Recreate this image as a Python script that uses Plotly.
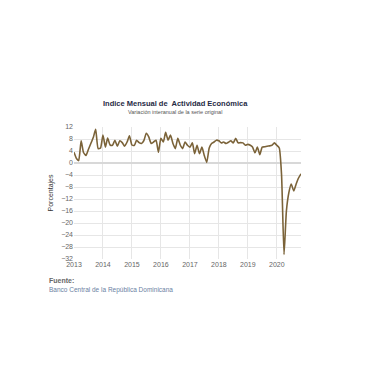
import plotly.graph_objects as go
import pandas as pd

# Monthly year-over-year variation (%), Jan 2013 - Nov 2020
values_2013 = [3.6, 1.5, 0.8, 7.4, 3.5, 2.5, 4.5, 6.5, 8.5, 11.2, 4.8, 5.0]
values_2014 = [9.3, 5.3, 8.3, 6.0, 5.9, 7.6, 5.6, 7.4, 6.8, 5.6, 7.0, 9.1]
values_2015 = [6.0, 5.9, 7.6, 6.8, 6.5, 7.5, 9.9, 8.7, 6.5, 7.0, 7.6, 3.6]
values_2016 = [8.2, 7.0, 10.2, 7.6, 9.3, 6.5, 4.8, 8.2, 6.0, 4.8, 7.0, 5.9]
values_2017 = [5.3, 6.7, 3.1, 5.9, 3.1, 5.3, 2.5, 0.2, 5.0, 6.5, 7.0, 7.6]
values_2018 = [7.4, 6.7, 7.0, 6.5, 6.9, 7.4, 6.7, 8.2, 6.7, 6.8, 6.7, 5.9]
values_2019 = [6.2, 5.9, 5.3, 3.4, 5.3, 2.8, 5.3, 5.4, 5.6, 5.7, 5.9, 6.7]
values_2020 = [5.9, 5.0, -4.0, -30.5, -16.0, -9.9, -7.0, -9.3, -7.0, -5.0, -3.6]

values = (values_2013 + values_2014 + values_2015 + values_2016 +
          values_2017 + values_2018 + values_2019 + values_2020)
dates = pd.date_range("2013-01-01", periods=len(values), freq="MS")

y_ticks = list(range(-32, 13, 4))

title = "Indice Mensual de  Actividad Económica"
subtitle = "Variación interanual de la serie original"
y_title = "Porcentajes"
source_label = "Fuente:"
source_text = "Banco Central de la República Dominicana"

FONT = "Liberation Sans, Arial, sans-serif"

fig = go.Figure()
fig.add_trace(go.Scatter(
    x=dates, y=values, mode="lines",
    line=dict(color="#7b6339", width=1.6, shape="spline", smoothing=0.5),
    hoverinfo="x+y", showlegend=False,
))

fig.update_layout(
    width=380, height=380,
    margin=dict(l=66, r=87, t=119, b=129),
    paper_bgcolor="white", plot_bgcolor="white",
    font=dict(family=FONT, size=7, color="#666666"),
    xaxis=dict(
        type="date", range=[dates[0], dates[-1]],
        dtick="M12", tick0="2013-01-01", tickformat="%Y",
        showgrid=True, gridcolor="#e6e6e6", gridwidth=1,
        zeroline=False, showline=False, ticks="",
        tickfont=dict(size=7, color="#666666"),
    ),
    yaxis=dict(
        range=[-32, 12], tickvals=y_ticks,
        showgrid=True, gridcolor="#e6e6e6", gridwidth=1,
        zeroline=True, zerolinecolor="#d8d8d8", zerolinewidth=1.5,
        showline=False, ticks="",
        tickfont=dict(size=7, color="#666666"),
        title=dict(text=y_title, font=dict(size=7, color="#333333"), standoff=6),
    ),
    annotations=[
        dict(text="<b>" + title + "</b>", xref="paper", yref="paper",
             x=0.445, y=1.175, xanchor="center", yanchor="middle",
             showarrow=False, font=dict(size=7.5, color="#1f2a44", family=FONT)),
        dict(text=subtitle, xref="paper", yref="paper",
             x=0.445, y=1.115, xanchor="center", yanchor="middle",
             showarrow=False, font=dict(size=5.5, color="#555555", family=FONT)),
        dict(text="<b>" + source_label + "</b>", xref="paper", yref="paper",
             x=-0.119, y=-0.16, xanchor="left", yanchor="middle",
             showarrow=False, font=dict(size=7, color="#666666", family=FONT)),
        dict(text=source_text, xref="paper", yref="paper",
             x=-0.119, y=-0.235, xanchor="left", yanchor="middle",
             showarrow=False, font=dict(size=6.5, color="#6b7fa3", family=FONT)),
    ],
)

fig.write_html("out.html")
